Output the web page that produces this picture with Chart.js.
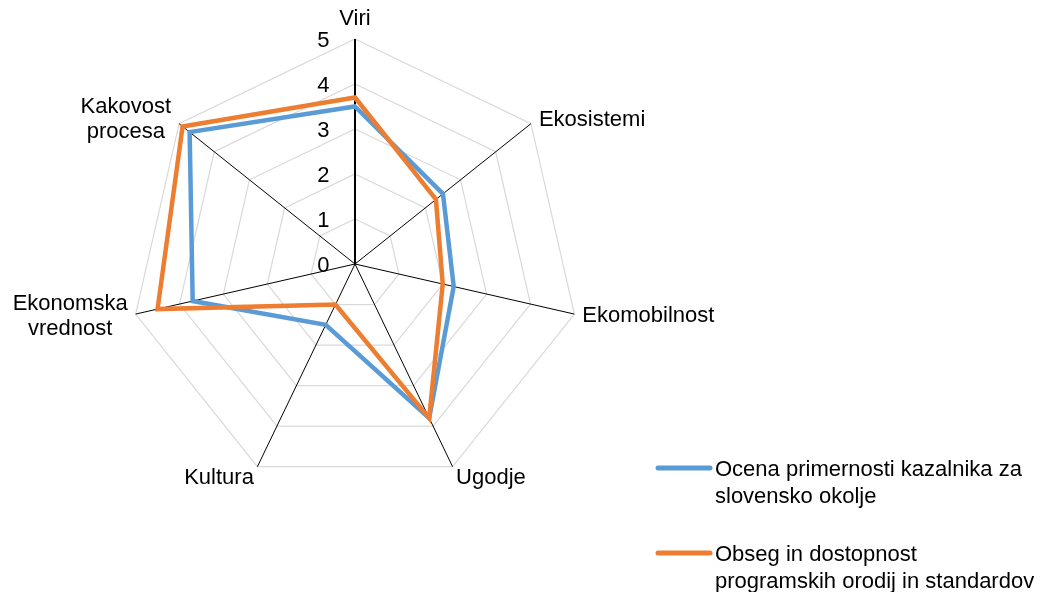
<!DOCTYPE html>
<html lang="sl">
<head>
<meta charset="utf-8">
<title>Kazalniki – radarski diagram</title>
<script src="https://cdn.jsdelivr.net/npm/chart.js@4/dist/chart.umd.min.js"></script>
<style>
  html, body { margin: 0; padding: 0; background: #ffffff; }
  #wrap { width: 1042px; height: 592px; position: relative; }
</style>
</head>
<body>
<div id="wrap"><canvas id="radar" width="1042" height="592"></canvas></div>
<script>
// Axis categories (multi-line names are given as arrays of lines)
const categories = [
  'Viri',
  'Ekosistemi',
  'Ekomobilnost',
  'Ugodje',
  'Kultura',
  ['Ekonomska', 'vrednost'],
  ['Kakovost', 'procesa']
];

// Series names, split into the lines shown in the legend
const seriesNames = [
  ['Ocena primernosti kazalnika za', 'slovensko okolje'],
  ['Obseg in dostopnost', 'programskih orodij in standardov']
];

// Scores per category (0–5)
const ocenaPrimernosti = [3.5, 2.5, 2.25, 3.8, 1.5, 3.7, 4.7];
const obsegDostopnost  = [3.7, 2.3, 2.0, 3.8, 1.0, 4.5, 4.9];

// Value axis tick labels
const tickValues = [0, 1, 2, 3, 4, 5];

const FONT = '22px "Liberation Sans", Arial, sans-serif';
const BLUE = '#5B9BD5';
const ORANGE = '#ED7D31';

// Category names placed around the outer ring
const pointLabelPlugin = {
  id: 'pointLabelsOuter',
  afterDraw(chart) {
    const scale = chart.scales.r;
    const ctx = chart.ctx;
    const n = chart.data.labels.length;
    const capH = 16, lineH = 25;
    ctx.save();
    ctx.font = FONT;
    ctx.fillStyle = '#000000';
    ctx.textBaseline = 'alphabetic';
    chart.data.labels.forEach((label, i) => {
      const lines = Array.isArray(label) ? label : [label];
      const p = scale.getPointPosition(i, scale.drawingArea);
      const theta = i * 2 * Math.PI / n;
      const s = Math.sin(theta), c = Math.cos(theta);
      const sign = s >= 0 ? 1 : -1;
      if (Math.abs(s) < 0.01) {
        ctx.textAlign = 'center';
        lines.slice().reverse().forEach((ln, k) => {
          ctx.fillText(ln, p.x, p.y - 14 - k * lineH);
        });
      } else if (c < -0.7) {
        ctx.textAlign = sign > 0 ? 'left' : 'right';
        lines.forEach((ln, k) => {
          ctx.fillText(ln, p.x + sign * 3.5, p.y + capH + 1 + k * lineH);
        });
      } else {
        const w = Math.max(...lines.map(l => ctx.measureText(l).width));
        const cx = p.x + sign * (8 + w / 2);
        const mid = p.y + (c > 0.3 ? -6 : 0);
        const firstMid = mid - (lines.length - 1) * lineH / 2;
        ctx.textAlign = 'center';
        lines.forEach((ln, k) => {
          ctx.fillText(ln, cx, firstMid + k * lineH + capH / 2);
        });
      }
    });
    ctx.restore();
  }
};

// Value labels to the left of the vertical axis
const tickLabelPlugin = {
  id: 'tickLabelsLeft',
  afterDraw(chart) {
    const scale = chart.scales.r;
    const ctx = chart.ctx;
    ctx.save();
    ctx.font = FONT;
    ctx.fillStyle = '#000000';
    ctx.textAlign = 'right';
    ctx.textBaseline = 'alphabetic';
    scale.ticks.forEach(t => {
      const y = scale.yCenter - scale.getDistanceFromCenterForValue(t.value);
      ctx.fillText(String(t.value), scale.xCenter - 25.5, y + 8);
    });
    ctx.restore();
  }
};

// Legend at the lower right with wrapped series names
const legendPlugin = {
  id: 'sideLegend',
  afterDraw(chart) {
    const ctx = chart.ctx;
    const x0 = 658, x1 = 710, tx = 715;
    const firstY = 468, itemGap = 85, lineH = 26.5;
    ctx.save();
    ctx.font = FONT;
    ctx.textAlign = 'left';
    ctx.textBaseline = 'alphabetic';
    chart.data.datasets.forEach((ds, i) => {
      const y = firstY + i * itemGap;
      ctx.strokeStyle = ds.borderColor;
      ctx.lineWidth = 5;
      ctx.lineCap = 'round';
      ctx.beginPath();
      ctx.moveTo(x0, y);
      ctx.lineTo(x1, y);
      ctx.stroke();
      ctx.fillStyle = '#000000';
      seriesNames[i].forEach((ln, k) => {
        ctx.fillText(ln, tx, y + 8 + k * lineH);
      });
    });
    ctx.restore();
  }
};

new Chart(document.getElementById('radar'), {
  type: 'radar',
  data: {
    labels: categories,
    datasets: [
      {
        label: seriesNames[0].join(' '),
        data: ocenaPrimernosti,
        borderColor: BLUE,
        backgroundColor: 'transparent',
        borderWidth: 4.5,
        pointRadius: 0,
        fill: false,
        order: 1
      },
      {
        label: seriesNames[1].join(' '),
        data: obsegDostopnost,
        borderColor: ORANGE,
        backgroundColor: 'transparent',
        borderWidth: 4.5,
        pointRadius: 0,
        fill: false,
        order: 0
      }
    ]
  },
  options: {
    responsive: false,
    animation: false,
    layout: { padding: { left: 130, right: 462, top: 39, bottom: 103 } },
    plugins: {
      legend: { display: false },
      tooltip: { enabled: false }
    },
    elements: { line: { tension: 0, borderJoinStyle: 'miter' } },
    scales: {
      r: {
        min: tickValues[0],
        max: tickValues[tickValues.length - 1],
        ticks: { stepSize: 1, display: false },
        grid: { color: '#d9d9d9', lineWidth: 1.2 },
        angleLines: {
          color: '#000000',
          lineWidth: ctx => (ctx.index === 0 ? 2 : 1)
        },
        pointLabels: { display: false }
      }
    }
  },
  plugins: [pointLabelPlugin, tickLabelPlugin, legendPlugin]
});
</script>
</body>
</html>
